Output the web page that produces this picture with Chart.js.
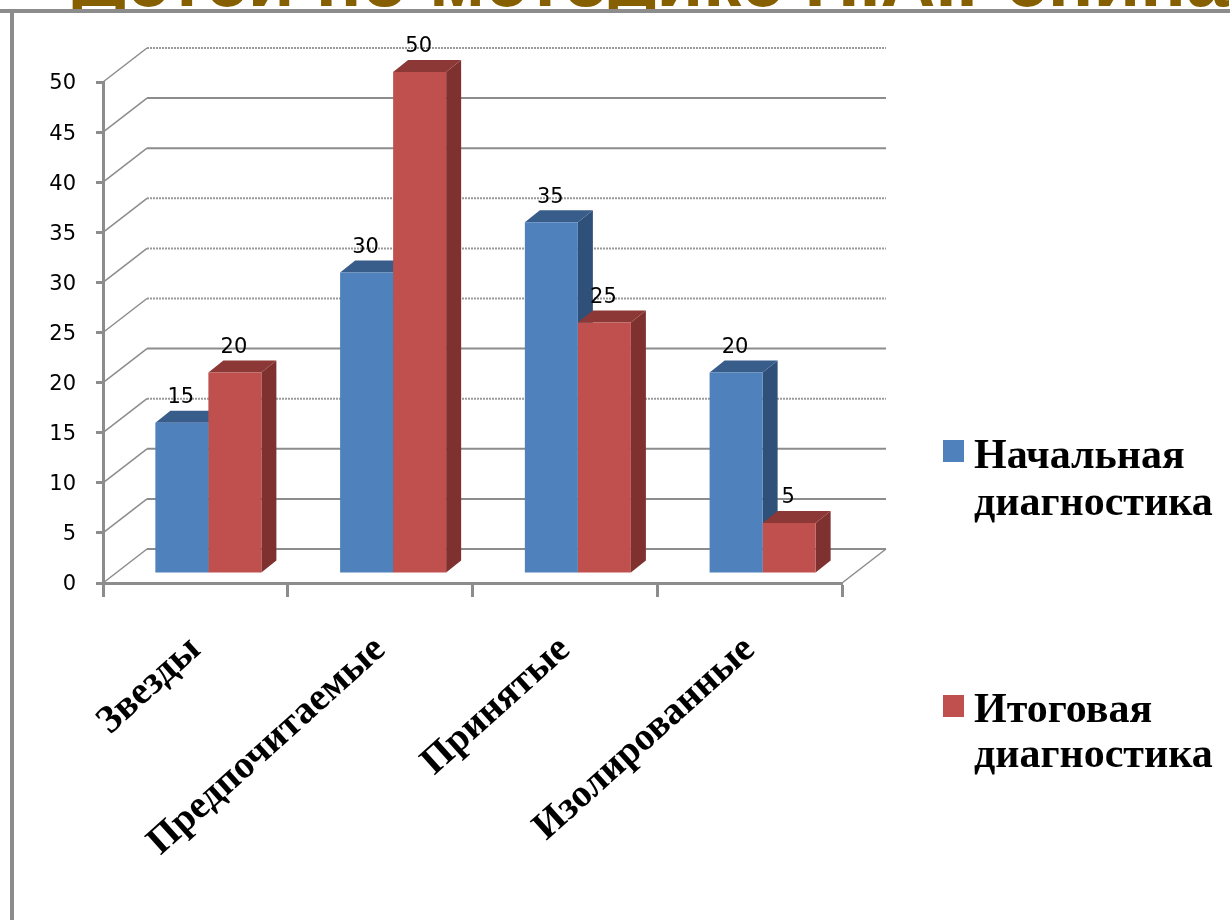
<!DOCTYPE html>
<html lang="ru">
<head>
<meta charset="utf-8">
<title>Социометрия</title>
<style>html,body{margin:0;padding:0;background:#fff;overflow:hidden}canvas{display:block}</style>
<script src="https://cdn.jsdelivr.net/npm/chart.js@4/dist/chart.umd.min.js"></script>
</head>
<body>
<canvas id="c" width="1230" height="920" style="width:1230px;height:920px"></canvas>
<script>
const categories = ['Звезды', 'Предпочитаемые', 'Принятые', 'Изолированные'];
const startValues = [15, 30, 35, 20];
const endValues = [20, 50, 25, 5];
const seriesNames = [['Начальная', 'диагностика'], ['Итоговая', 'диагностика']];
const titleText = 'Детей по методике Н.А.Ренина';

const AXIS = '#8c8c8c';
const WALL = {dx: 44, dy: -34};
const BAR_SHIFT = {dx: 13, dy: -10};
const DEPTH = {dx: 15, dy: -12};
const FACES = [{front: '#4f81bd', top: '#385d8a', side: '#2f5078'},
               {front: '#c0504d', top: '#8c3836', side: '#7f312f'}];
const SOLID_ROWS = [45, 40, 20, 10, 5, 0];

const scene = {
  id: 'scene',
  beforeDraw(chart) {
    const c = chart.ctx;
    c.save();
    c.fillStyle = '#fff';
    c.fillRect(0, 0, chart.width, chart.height);
    c.save();
    c.beginPath();
    c.rect(0, 0, chart.width, 10);
    c.clip();
    c.fillStyle = '#866000';
    c.font = 'bold 76px "Liberation Sans"';
    c.textBaseline = 'alphabetic';
    c.fillText(titleText, 72, 6);
    c.restore();
    c.fillStyle = '#8c8c8c';
    c.fillRect(0, 9, chart.width, 4);
    c.fillRect(10, 9, 4, chart.height);
    c.restore();
  },
  beforeDatasetsDraw(chart) {
    const c = chart.ctx, y = chart.scales.y, a = chart.chartArea;
    c.save();
    y.ticks.forEach(t => {
      const py = y.getPixelForValue(t.value);
      c.strokeStyle = AXIS;
      c.lineWidth = 1.5;
      c.setLineDash([]);
      c.beginPath();
      c.moveTo(a.left, py);
      c.lineTo(a.left + WALL.dx, py + WALL.dy);
      c.stroke();
      const solid = SOLID_ROWS.includes(t.value);
      c.lineWidth = 2;
      c.strokeStyle = solid ? '#8c8c8c' : '#9a9a9a';
      c.setLineDash(solid ? [] : [2, 1]);
      c.beginPath();
      c.moveTo(a.left + WALL.dx, py + WALL.dy);
      c.lineTo(a.right + WALL.dx, py + WALL.dy);
      c.stroke();
    });
    c.setLineDash([]);
    c.lineWidth = 1.5;
    c.strokeStyle = AXIS;
    c.beginPath();
    c.moveTo(a.right, a.bottom);
    c.lineTo(a.right + WALL.dx, a.bottom + WALL.dy);
    c.stroke();

    c.translate(BAR_SHIFT.dx, BAR_SHIFT.dy);
    categories.forEach((_, i) => {
      [0, 1].forEach(d => {
        const b = chart.getDatasetMeta(d).data[i];
        const l = b.x - b.width / 2, r = b.x + b.width / 2;
        c.fillStyle = FACES[d].side;
        c.beginPath();
        c.moveTo(r, b.y);
        c.lineTo(r + DEPTH.dx, b.y + DEPTH.dy);
        c.lineTo(r + DEPTH.dx, b.base + DEPTH.dy);
        c.lineTo(r, b.base);
        c.closePath();
        c.fill();
        c.fillStyle = FACES[d].top;
        c.beginPath();
        c.moveTo(l, b.y);
        c.lineTo(l + DEPTH.dx, b.y + DEPTH.dy);
        c.lineTo(r + DEPTH.dx, b.y + DEPTH.dy);
        c.lineTo(r, b.y);
        c.closePath();
        c.fill();
      });
    });
  },
  afterDatasetsDraw(chart) {
    const c = chart.ctx;
    c.restore();
    c.save();
    c.fillStyle = '#000';
    c.font = '21px "DejaVu Sans"';
    c.textAlign = 'center';
    c.textBaseline = 'middle';
    chart.data.datasets.forEach((ds, d) => {
      chart.getDatasetMeta(d).data.forEach((b, i) => {
        c.fillText(String(ds.data[i]), b.x + BAR_SHIFT.dx - 1, b.y + BAR_SHIFT.dy - 25);
      });
    });
    const rows = [{sq: 440, t: [468, 515]}, {sq: 695, t: [722, 767]}];
    c.textAlign = 'left';
    c.textBaseline = 'alphabetic';
    c.font = 'bold 42px "Liberation Serif"';
    chart.data.datasets.forEach((ds, d) => {
      c.fillStyle = ds.backgroundColor;
      c.fillRect(943, rows[d].sq, 21, 22);
      c.fillStyle = '#000';
      seriesNames[d].forEach((line, k) => c.fillText(line, 974, rows[d].t[k]));
    });
    c.restore();
  }
};

new Chart(document.getElementById('c'), {
  type: 'bar',
  data: {
    labels: categories,
    datasets: [
      {label: seriesNames[0].join(' '), data: startValues, backgroundColor: FACES[0].front, clip: false},
      {label: seriesNames[1].join(' '), data: endValues, backgroundColor: FACES[1].front, clip: false}
    ]
  },
  options: {
    responsive: false,
    animation: false,
    devicePixelRatio: 1,
    categoryPercentage: 0.574,
    barPercentage: 1,
    layout: {padding: {left: 0, top: 82, right: 388, bottom: 0}},
    plugins: {legend: {display: false}, tooltip: {enabled: false}, title: {display: false}},
    scales: {
      x: {
        afterFit: s => { s.height = 337; },
        grid: {drawOnChartArea: false, drawTicks: true, tickLength: 14, tickWidth: 3, tickColor: AXIS, offset: true},
        border: {display: true, color: AXIS, width: 3, dash: [2, 1]},
        ticks: {color: '#000', font: {family: '"Liberation Serif"', weight: 'bold', size: 39}, minRotation: 42, maxRotation: 42, autoSkip: false, padding: 30}
      },
      y: {
        min: 0, max: 50,
        afterFit: s => { s.width = 103; },
        grid: {drawOnChartArea: false, drawTicks: true, tickLength: 7, tickWidth: 3, tickColor: AXIS},
        border: {display: true, color: AXIS, width: 3},
        ticks: {stepSize: 5, color: '#000', font: {family: '"DejaVu Sans"', size: 21}, padding: 20, labelOffset: 2}
      }
    }
  },
  plugins: [scene]
});
</script>
</body>
</html>
